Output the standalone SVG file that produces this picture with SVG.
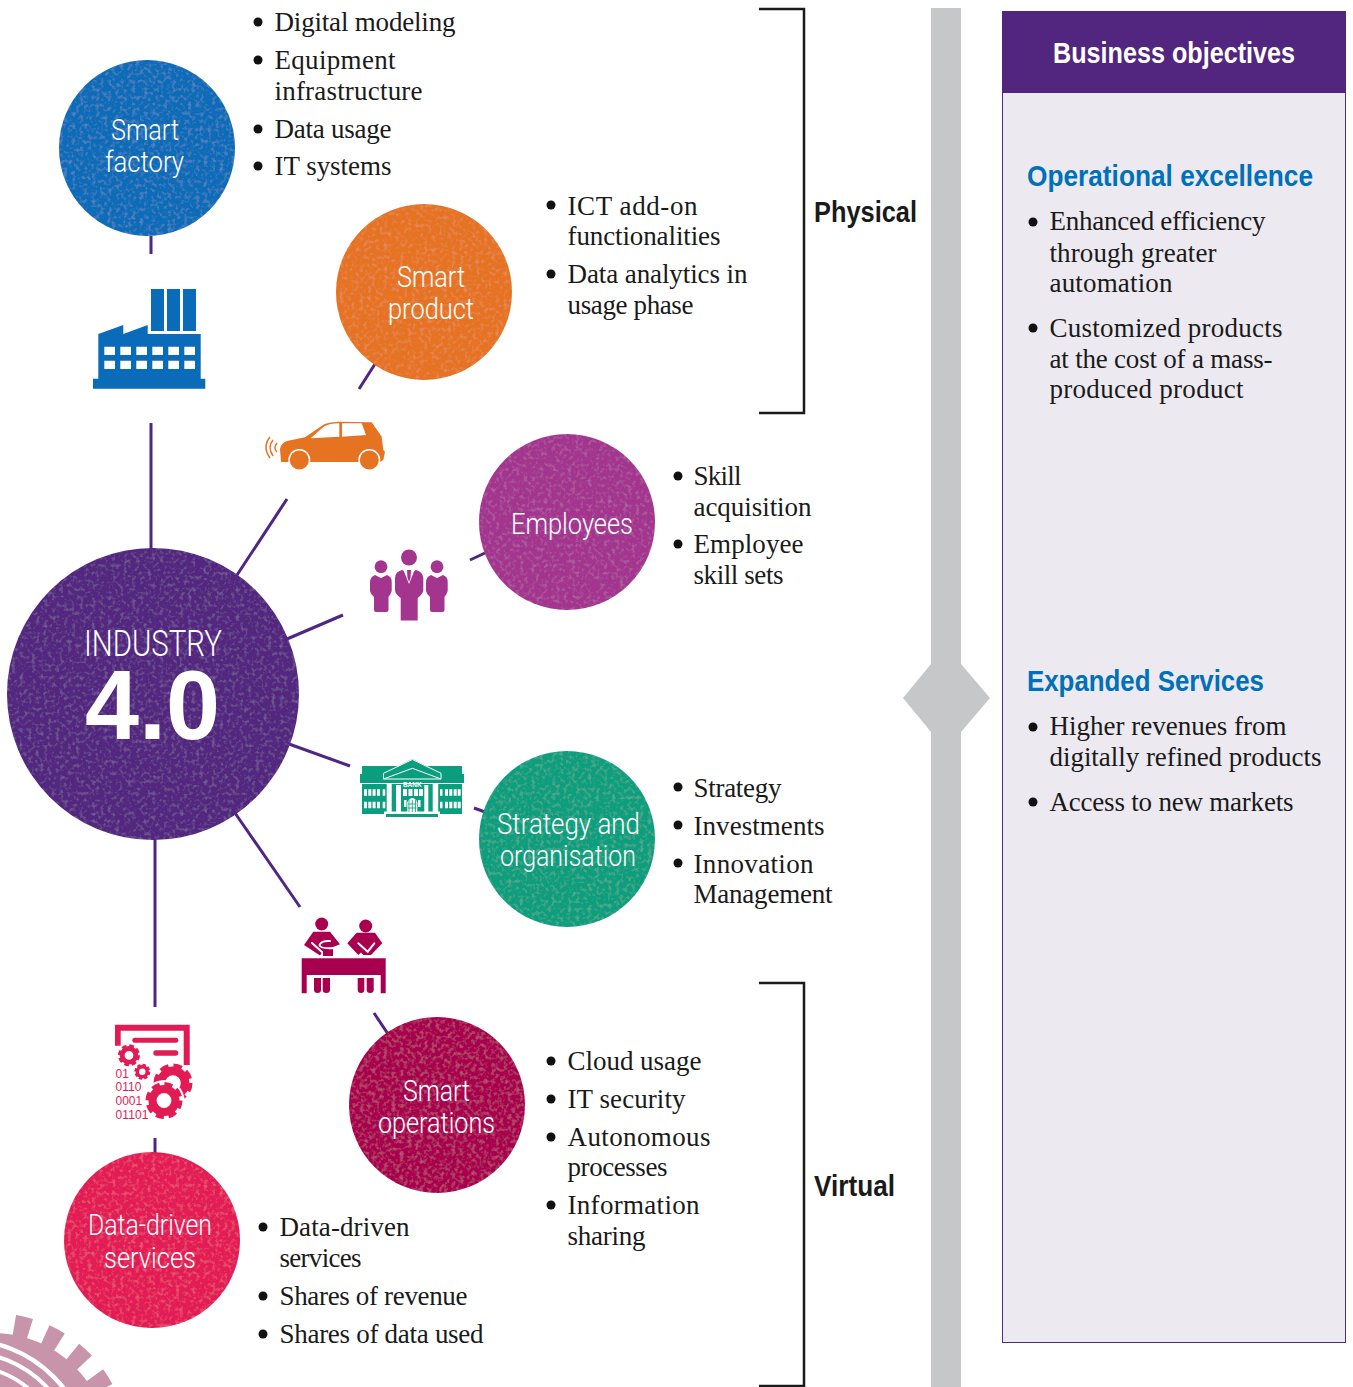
<svg xmlns="http://www.w3.org/2000/svg" xmlns:xlink="http://www.w3.org/1999/xlink" width="1353" height="1387" viewBox="0 0 1353 1387">
<style>
text{font-family:"Liberation Serif",serif;fill:#1a1a1a}
.b{font-size:27px;transform:translate(-.5px,0)}
.c{font-family:Roboto,"Liberation Sans",sans-serif;font-weight:300;font-size:29px;fill:#fff}
.h{font-family:"Liberation Sans",sans-serif;font-weight:700;font-size:30px}
.blue{fill:#0070b8}
.conn{stroke:#4f2683;stroke-width:3;fill:none}
.brk{stroke:#1a1a1a;stroke-width:2.5;fill:none}
.dot{fill:#111}
.node{filter:url(#grain)}
.bin{fill:#e31b54;font-family:"Liberation Sans",sans-serif;font-size:12px}
</style>
<defs>
<filter id="grain" x="0" y="0" width="100%" height="100%">
<feTurbulence type="fractalNoise" baseFrequency=".25" numOctaves="2" seed="4"/>
<feColorMatrix values="0 0 0 0 1 0 0 0 0 1 0 0 0 0 1 0 0 0 .25 -.12"/>
<feComposite in2="SourceAlpha" operator="in" result="n"/>
<feMerge><feMergeNode in="SourceGraphic"/><feMergeNode in="n"/></feMerge>
</filter>
<g id="gear" fill="none" stroke="#e31b54">
<circle r="6.200" stroke-width="4.400"/>
<circle r="8.500" stroke-width="3" stroke-dasharray="4.200 2.470" stroke-linejoin="round"/>
</g>
</defs>
<rect width="1353" height="1387" fill="#fff"/>

<g id="gear-decoration">
<circle cx="-7" cy="1449" r="125.500" fill="none" stroke="#c794a9" stroke-width="21" stroke-dasharray="16 16.33" stroke-dashoffset="-612.6"/>
<circle cx="-7" cy="1449" r="116" fill="#c794a9"/>
<g fill="none" stroke="#fff">
<circle cx="-35" cy="1465" r="125" stroke-width="4.500"/>
<circle cx="-35" cy="1465" r="113" stroke-width="4"/>
<circle cx="-35" cy="1465" r="99.500" stroke-width="4"/>
</g>
</g>

<g id="connectors">
<path class="conn" d="M151 236V254M151 423V552M375 364L359 389M287 499L237 575M343 615L287 639M485 553L470 560M289 744L350 766M474 808L485 812M235 813L300 907M374 1013L388 1034M155 838V1007M155 1138V1153"/>
<path class="brk" d="M759 9H804V413H759"/>
<path class="brk" d="M759 983H804V1386H759"/>
</g>

<g id="bar">
<rect x="931" y="8" width="30" height="1379" fill="#c6c7c9"/>
<polygon points="903,698 931,664 961,664 990,698 961,732 931,732" fill="#c6c7c9"/>
</g>

<g id="business-objectives">
<rect x="1002.5" y="11.5" width="343" height="1331" fill="#ece9f0" stroke="#512d8a" stroke-width="1"/>
<rect x="1002" y="11" width="344" height="82" fill="#52267f"/>
<text class="h" x="1053" y="63" textLength="242" lengthAdjust="spacingAndGlyphs" style="fill:#fff">Business objectives</text>
<text class="h blue" x="1027" y="186" textLength="286" lengthAdjust="spacingAndGlyphs">Operational excellence</text>
<circle class="dot" cx="1033" cy="222" r="4.5"/>
<text class="b" x="1050" y="230" textLength="216">Enhanced efficiency</text>
<text class="b" x="1050" y="262" textLength="167">through greater</text>
<text class="b" x="1050" y="292" textLength="123">automation</text>
<circle class="dot" cx="1033" cy="328" r="4.5"/>
<text class="b" x="1050" y="337" textLength="233">Customized products</text>
<text class="b" x="1050" y="368" textLength="223">at the cost of a mass-</text>
<text class="b" x="1050" y="398" textLength="194">produced product</text>
<text class="h blue" x="1027" y="691" textLength="237" lengthAdjust="spacingAndGlyphs">Expanded Services</text>
<circle class="dot" cx="1033" cy="727" r="4.5"/>
<text class="b" x="1050" y="735" textLength="237">Higher revenues from</text>
<text class="b" x="1050" y="766" textLength="272">digitally refined products</text>
<circle class="dot" cx="1033" cy="802" r="4.5"/>
<text class="b" x="1050" y="811" textLength="244">Access to new markets</text>
</g>

<g id="label-physical"><text class="h" x="814" y="222" textLength="103" lengthAdjust="spacingAndGlyphs">Physical</text></g>
<g id="label-virtual"><text class="h" x="814" y="1196" textLength="81" lengthAdjust="spacingAndGlyphs">Virtual</text></g>

<g id="industry">
<circle class="node" cx="153" cy="694" r="146" fill="#52267f"/>
<text class="c" x="84" y="655.500" style="font-size:36px" textLength="138" lengthAdjust="spacingAndGlyphs">INDUSTRY</text>
<text x="85" y="739" style="font-family:'Liberation Sans',sans-serif;font-weight:700;font-size:98px;fill:#fff" textLength="135" lengthAdjust="spacingAndGlyphs">4.0</text>
</g>

<g id="smart-factory">
<circle class="node" cx="147" cy="148" r="88" fill="#0a6cb8"/>
<text class="c" x="111" y="140" textLength="68" lengthAdjust="spacingAndGlyphs">Smart</text>
<text class="c" x="105" y="172" textLength="79" lengthAdjust="spacingAndGlyphs">factory</text>
<g fill="#0a6cb8">
<rect x="151" y="289" width="13" height="42"/><rect x="167" y="289" width="13" height="42"/><rect x="183" y="289" width="13" height="42"/>
<path fill-rule="evenodd" d="M98.3 334L123.3 325V334L147.7 325V334H200.7V378.7H205.3V388.7H93V378.7H98.3Z
M104.3 346.7h10.7v8.3h-10.7zM120.3 346.7h10.7v8.3h-10.7zM136.3 346.7h10.7v8.3h-10.7zM152.3 346.7h10.7v8.3h-10.7zM168.3 346.7h10.7v8.3h-10.7zM184.3 346.7h10.7v8.3h-10.7z
M104.3 360.7h10.7v8.3h-10.7zM120.3 360.7h10.7v8.3h-10.7zM136.3 360.7h10.7v8.3h-10.7zM152.3 360.7h10.7v8.3h-10.7zM168.3 360.7h10.7v8.3h-10.7zM184.3 360.7h10.7v8.3h-10.7z"/>
</g>
<text class="b" x="275" y="31" textLength="181">Digital modeling</text>
<text class="b" x="275" y="69" textLength="121">Equipment</text>
<text class="b" x="275" y="100" textLength="148">infrastructure</text>
<text class="b" x="275" y="138" textLength="117">Data usage</text>
<text class="b" x="275" y="175" textLength="117">IT systems</text>
<circle class="dot" cx="258" cy="22" r="4.5"/><circle class="dot" cx="258" cy="60" r="4.5"/><circle class="dot" cx="258" cy="129" r="4.5"/><circle class="dot" cx="258" cy="166" r="4.5"/>
</g>

<g id="smart-product">
<circle class="node" cx="424" cy="292" r="88" fill="#e57322"/>
<text class="c" x="397" y="287" textLength="68" lengthAdjust="spacingAndGlyphs">Smart</text>
<text class="c" x="388" y="319" textLength="86" lengthAdjust="spacingAndGlyphs">product</text>
<path fill="#e57322" d="M281 462L280 449Q281 443 287 441L305 437.300L323 425Q327 422.500 338 421.800L371.700 422.300L381.700 436.700L383.300 450L385 451.700L383.300 460L380 462Z"/>
<path fill="#fff" d="M310.700 438.300L339.300 436.700V423.300Q328 423.500 323.300 427ZM342 423.300H361.700L366 435L342 436.700Z"/>
<circle cx="299.300" cy="460" r="11" fill="#fff"/><circle cx="369.300" cy="460" r="11" fill="#fff"/>
<circle cx="299.300" cy="460" r="9.500" fill="#e57322"/><circle cx="369.300" cy="460" r="9.500" fill="#e57322"/>
<path fill="none" stroke="#e57322" stroke-width="1.500" d="M270 437Q262 447 270 458M273 440Q267 447 273 456M277 443Q273 448 277 452"/>
<text class="b" x="568" y="215" textLength="130">ICT add-on</text>
<text class="b" x="568" y="245" textLength="153">functionalities</text>
<text class="b" x="568" y="283" textLength="180">Data analytics in</text>
<text class="b" x="568" y="314" textLength="126">usage phase</text>
<circle class="dot" cx="551" cy="205" r="4.5"/><circle class="dot" cx="551" cy="274" r="4.5"/>
</g>

<g id="employees">
<circle class="node" cx="567" cy="522" r="88" fill="#a3358f"/>
<text class="c" x="511" y="534" textLength="122" lengthAdjust="spacingAndGlyphs">Employees</text>
<g fill="#a3358f">
<circle cx="409" cy="557.500" r="8"/><circle cx="381" cy="566.700" r="6.400"/><circle cx="437" cy="566.700" r="6.400"/>
<path d="M402 570L409 573L416 570Q423 572 423.300 578V590Q423 594 417.700 598V620.500H400.700V598Q395 594 395 590V578Q395 572 402 570Z"/>
<path d="M375 575L381 578L387 575Q392 577 391.700 582V591Q391 594 388.500 597V610Q388.500 612 386.500 612H376Q374 612 374 610V597Q370.500 594 370 591V582Q370 577 375 575Z"/>
<path d="M431 575L437 578L443 575Q448 577 447.700 582V591Q447 594 444.500 597V610Q444.500 612 442.500 612H432Q430 612 430 610V597Q426.500 594 426 591V582Q426 577 431 575Z"/>
</g>
<path d="M403 569L409 584L415 569Z" fill="#fff"/>
<path d="M407 570H411L410.500 578L409 582L407.500 578Z" fill="#a3358f"/>
<text class="b" x="694" y="485" textLength="48">Skill</text>
<text class="b" x="694" y="516" textLength="118">acquisition</text>
<text class="b" x="694" y="553" textLength="110">Employee</text>
<text class="b" x="694" y="584" textLength="90">skill sets</text>
<circle class="dot" cx="678" cy="476" r="4.5"/><circle class="dot" cx="678" cy="544" r="4.5"/>
</g>

<g id="strategy">
<circle class="node" cx="567" cy="839" r="88" fill="#0b9e7e"/>
<text class="c" x="497" y="834" textLength="143" lengthAdjust="spacingAndGlyphs">Strategy and</text>
<text class="c" x="500" y="866" textLength="136" lengthAdjust="spacingAndGlyphs">organisation</text>
<g fill="#0b9e7e">
<rect x="362" y="766" width="100" height="48"/>
<rect x="360" y="774" width="104" height="9"/>
<rect x="386" y="814" width="52" height="3"/>
<polygon points="412.300,759 441,773 441,780 383.300,780 383.300,773"/>
</g>
<path fill="none" stroke="#fff" stroke-width="1" d="M383.500 779V773.300L412.300 759.500L441 773.300V779ZM383.500 779L412.300 768.300L441 779M360 783.500H464"/>
<text x="412.300" y="787" text-anchor="middle" style="font-family:'Liberation Sans',sans-serif;font-size:6.500px;font-weight:700;fill:#fff">BANK</text>
<g fill="#fff">
<rect x="386.700" y="784" width="5" height="30"/><rect x="396" y="785" width="5" height="27"/>
<rect x="424.300" y="785" width="4" height="27"/><rect x="432.700" y="784" width="5.500" height="30"/>
<rect x="384" y="811.500" width="56" height="2.500"/>
<path d="M364 789.300h3v6.400h-3zM368.300 789.300h3v6.400h-3zM372.600 789.300h3v6.400h-3zM377 789.300h3v6.400h-3zM382.700 789.300h2.500v6.400h-2.500zM364 801.700h3v6.600h-3zM368.300 801.700h3v6.600h-3zM372.600 801.700h3v6.600h-3zM377 801.700h3v6.600h-3zM382.700 801.700h2.500v6.600h-2.500z"/>
<path d="M440 789.300h2.500v6.400h-2.500zM445 789.300h3v6.400h-3zM449.300 789.300h3v6.400h-3zM453.700 789.300h3v6.400h-3zM457.700 789.300h3v6.400h-3zM440 801.700h2.500v6.600h-2.500zM445 801.700h3v6.600h-3zM449.300 801.700h3v6.600h-3zM453.700 801.700h3v6.600h-3zM457.700 801.700h3v6.600h-3z"/>
<path d="M403 789h4v7h-4zM408.500 789h4v7h-4zM414 789h4v7h-4zM419 789h4v7h-4zM404 800h2.500v7h-2.500zM418 800h2.500v7h-2.500z"/>
<path d="M407.300 812V802Q412.300 794 417.300 802V812Z"/>
</g>
<path stroke="#0b9e7e" stroke-width=".8" fill="none" d="M412.300 800v12M409 800v12M415.500 800v12M408 804H416.500M408 808H416.500"/>
<text class="b" x="694" y="797" textLength="88">Strategy</text>
<text class="b" x="694" y="835" textLength="131">Investments</text>
<text class="b" x="694" y="873" textLength="120">Innovation</text>
<text class="b" x="694" y="903" textLength="139">Management</text>
<circle class="dot" cx="678" cy="787" r="4.5"/><circle class="dot" cx="678" cy="825" r="4.5"/><circle class="dot" cx="678" cy="863" r="4.5"/>
</g>

<g id="smart-operations">
<circle class="node" cx="437" cy="1105" r="88" fill="#a8004f"/>
<text class="c" x="403" y="1101" textLength="67" lengthAdjust="spacingAndGlyphs">Smart</text>
<text class="c" x="378" y="1133" textLength="117" lengthAdjust="spacingAndGlyphs">operations</text>
<g fill="#a8004f">
<path d="M301.700 958.300H385.700V993.300H380.700V975H306.700V993.300H301.700Z"/>
<path d="M314 978H321V990Q321 993 317.500 993Q314 993 314 990ZM322.700 978H330V990Q330 993 326.300 993Q322.700 993 322.700 990ZM357.700 978H364.300V990Q364.300 993 361 993Q357.700 993 357.700 990ZM366.700 978H373.700V990Q373.700 993 370.200 993Q366.700 993 366.700 990Z"/>
<circle cx="321.700" cy="924" r="6.500"/><circle cx="365.700" cy="926" r="6.500"/>
<path d="M304 945L313.300 931.700H330L340 944.300L333 947V956H323V951L320 955.500Z"/>
<path d="M347.300 943.300L356.700 932.700H375L382.300 943.300L371 955H363.300L361 952.500L358.300 955Z"/>
</g>
<path fill="none" stroke="#fff" stroke-width="2" stroke-linecap="round" d="M312 943L322 952M330 941Q321 940.500 319.500 945Q320 949 334 948M358.300 943.300L367.700 951.700L374.300 943.300"/>
<text class="b" x="568" y="1070" textLength="134">Cloud usage</text>
<text class="b" x="568" y="1108" textLength="118">IT security</text>
<text class="b" x="568" y="1146" textLength="143">Autonomous</text>
<text class="b" x="568" y="1176" textLength="100">processes</text>
<text class="b" x="568" y="1214" textLength="132">Information</text>
<text class="b" x="568" y="1245" textLength="78">sharing</text>
<circle class="dot" cx="551" cy="1061" r="4.5"/><circle class="dot" cx="551" cy="1099" r="4.5"/><circle class="dot" cx="551" cy="1137" r="4.5"/><circle class="dot" cx="551" cy="1205" r="4.5"/>
</g>

<g id="data-driven">
<circle class="node" cx="152" cy="1240" r="88" fill="#e31b54"/>
<text class="c" x="88" y="1235" textLength="124" lengthAdjust="spacingAndGlyphs">Data-driven</text>
<text class="c" x="104" y="1268" textLength="92" lengthAdjust="spacingAndGlyphs">services</text>
<path fill="#e31b54" d="M115 1024.700H189.700V1065H183.700V1030.700H120.700V1045.700H115Z"/>
<rect x="132.300" y="1037.700" width="46" height="5" rx="2.500" fill="#e31b54"/>
<rect x="153.300" y="1050.300" width="25" height="5.400" rx="2.700" fill="#e31b54"/>
<use xlink:href="#gear" href="#gear" transform="translate(129 1055.300) scale(1.100)"/>
<use xlink:href="#gear" href="#gear" transform="translate(142.300 1071.700) scale(.8)"/>
<use xlink:href="#gear" href="#gear" transform="translate(173 1083) scale(1.950)"/>
<circle cx="164" cy="1100.500" r="20.500" fill="#fff"/>
<use xlink:href="#gear" href="#gear" transform="translate(164 1100.500) scale(1.850)"/>
<text class="bin" x="115.500" y="1078">01</text>
<text class="bin" x="115.500" y="1091">0110</text>
<text class="bin" x="115.500" y="1105">0001</text>
<text class="bin" x="115.500" y="1119" textLength="33">01101</text>
<text class="b" x="280" y="1236" textLength="130">Data-driven</text>
<text class="b" x="280" y="1267" textLength="82">services</text>
<text class="b" x="280" y="1305" textLength="188">Shares of revenue</text>
<text class="b" x="280" y="1343" textLength="204">Shares of data used</text>
<circle class="dot" cx="263" cy="1227" r="4.5"/><circle class="dot" cx="263" cy="1296" r="4.5"/><circle class="dot" cx="263" cy="1334" r="4.5"/>
</g>
</svg>
